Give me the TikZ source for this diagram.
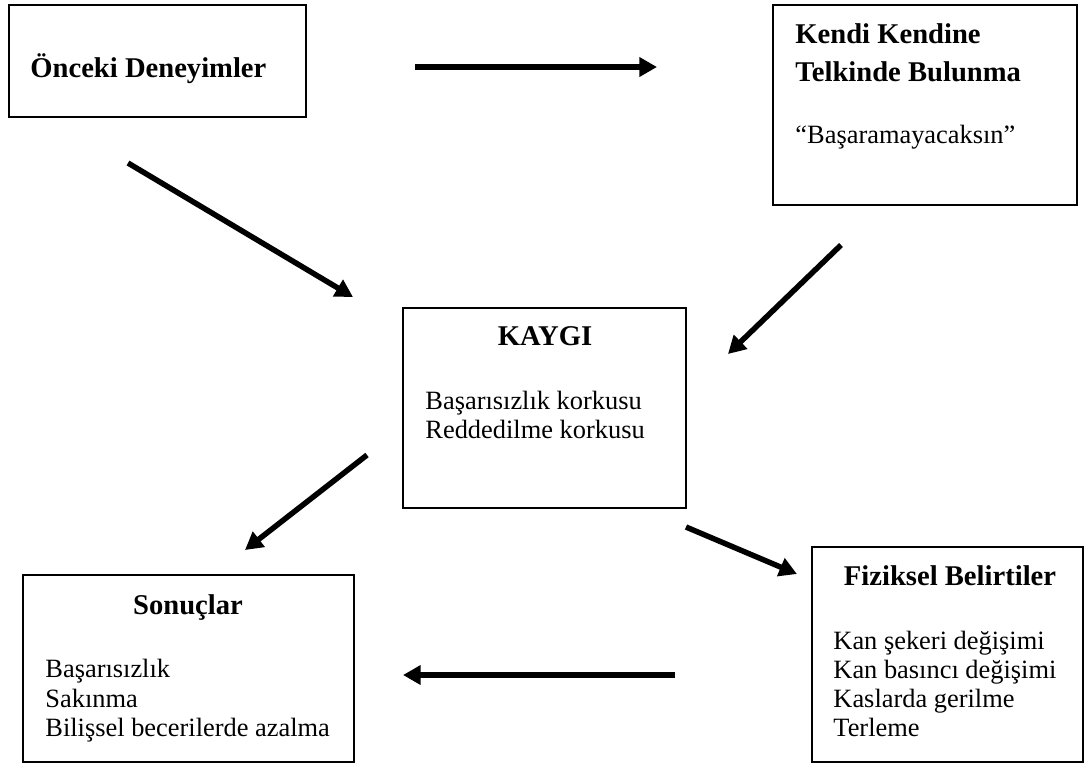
\documentclass[tikz,border=0pt]{standalone}
\usepackage{fontspec}
\setmainfont{Liberation Serif}
\usetikzlibrary{arrows.meta,fit}

\tikzset{
  kutu/.style={draw, line width=1pt, inner sep=0pt},
  baslik/.style={inner sep=0pt, font=\fontsize{13}{15}\selectfont\bfseries},
  yazi/.style={inner sep=0pt, anchor=base west, font=\fontsize{12}{14}\selectfont},
  ok/.style={line width=2.5pt, -{Triangle[length=8pt,width=8.5pt]}}
}

\begin{document}
\begin{tikzpicture}[x=0.4545pt,y=-0.4545pt]
	\useasboundingbox (0,0) rectangle (1087,764);
	% kutular
	\node[kutu, fit={(9,5) (306,117)}] (onceki) {};
	\node[kutu, fit={(773,5) (1077,205)}] (telkin) {};
	\node[kutu, fit={(403,308) (686,508)}] (kaygi) {};
	\node[kutu, fit={(23,575) (354,762)}] (sonuc) {};
	\node[kutu, fit={(812,547) (1083,762)}] (fizik) {};

	% basliklar
	\node[baslik, anchor=base west] (t1) at (30,77) {Önceki Deneyimler};
	\node[baslik, anchor=base west] (t2a) at (795,43) {Kendi Kendine};
	\node[baslik, anchor=base west] (t2b) at (795,81) {Telkinde Bulunma};
	\node[baslik, anchor=base] (t3) at (545,345) {KAYGI};
	\node[baslik, anchor=base] (t4) at (188,614) {Sonuçlar};
	\node[baslik, anchor=base] (t5) at (950,585) {Fiziksel Belirtiler};

	% metinler
	\node[yazi] (s2) at (795,143) {``Başaramayacaksın''};
	\node[yazi] (k1) at (425,409) {Başarısızlık korkusu};
	\node[yazi] (k2) at (425,438) {Reddedilme korkusu};
	\node[yazi] (n1) at (45,677) {Başarısızlık};
	\node[yazi] (n2) at (45,707) {Sakınma};
	\node[yazi] (n3) at (45,736) {Bilişsel becerilerde azalma};
	\node[yazi] (f1) at (833,649) {Kan şekeri değişimi};
	\node[yazi] (f2) at (833,678) {Kan basıncı değişimi};
	\node[yazi] (f3) at (833,707) {Kaslarda gerilme};
	\node[yazi] (f4) at (833,736) {Terleme};

	% oklar
	\coordinate (a1) at (415,67);  \coordinate (b1) at (657,67);
	\coordinate (a2) at (128,163); \coordinate (b2) at (353,297);
	\coordinate (a3) at (841,245); \coordinate (b3) at (728,354);
	\coordinate (a4) at (367,455); \coordinate (b4) at (245,550);
	\coordinate (a5) at (686,527); \coordinate (b5) at (797,574);
	\coordinate (a6) at (675,675); \coordinate (b6) at (403,675);
	\draw[ok] (a1) -- (b1);
	\draw[ok] (a2) -- (b2);
	\draw[ok] (a3) -- (b3);
	\draw[ok] (a4) -- (b4);
	\draw[ok] (a5) -- (b5);
	\draw[ok] (a6) -- (b6);
\end{tikzpicture}
\end{document}
